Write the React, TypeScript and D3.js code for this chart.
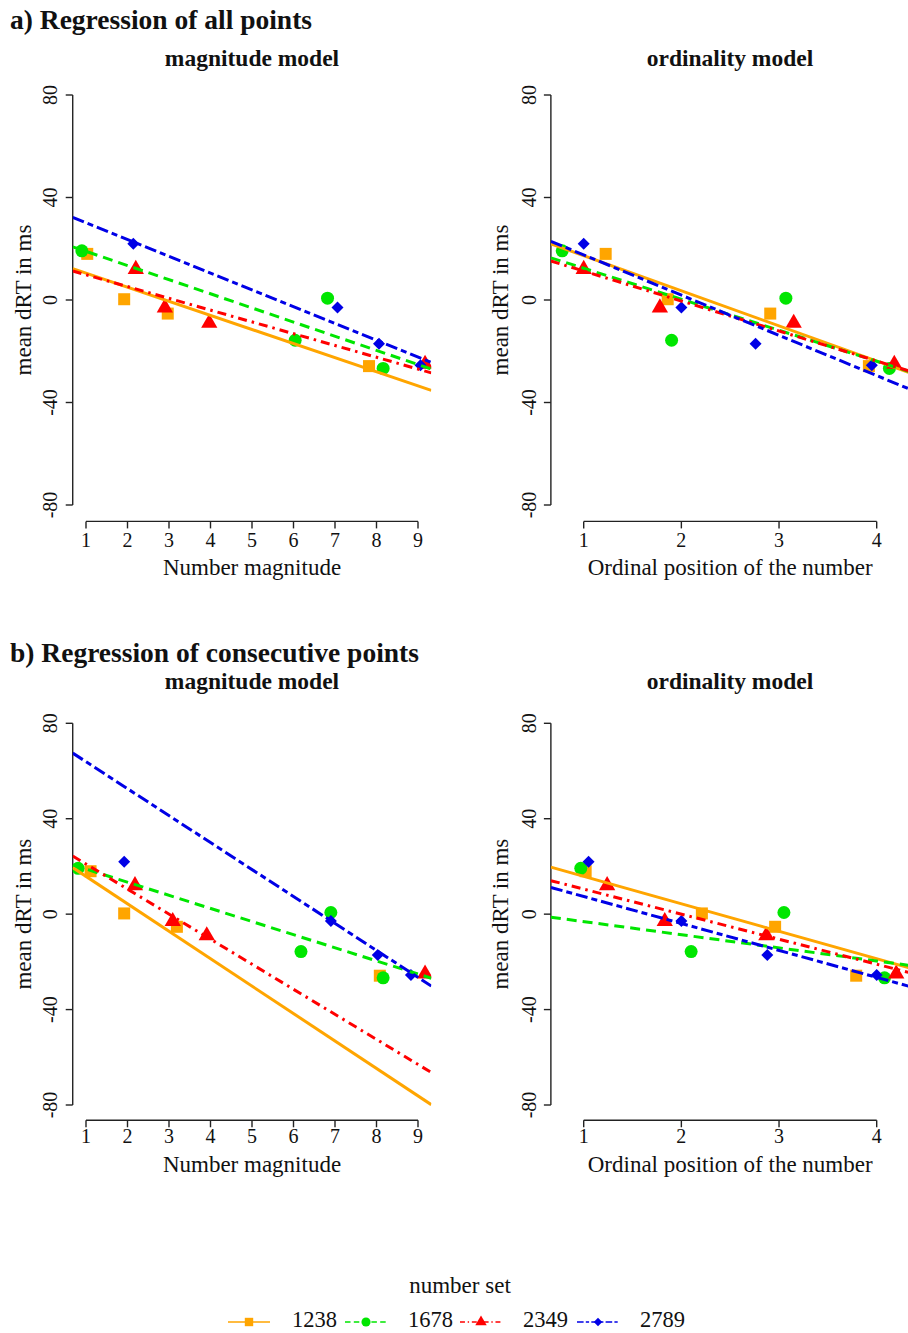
import React from 'react';
import * as d3 from 'd3';

// ---------- data ----------
const SERIES = ['1238', '1678', '2349', '2789'];
const COLORS = ['#FFA500', '#00E600', '#FF0000', '#0000E6'];
const DASHES = ['', '10,6', '9,5,2.5,5', '12,4,6,4'];
const SHAPES = ['square', 'circle', 'triangle', 'diamond'];

// mean dRT per number (same in every panel), one array per number set
const Y_1238 = [18, 0.3, -5.3, -25.8];
const Y_1678 = [19.2, -15.7, 0.7, -26.7];
const Y_2349 = [12, -3, -9, -25];
const Y_2789 = [22, -2.9, -17.1, -25.5];
const Y_VALUES = [Y_1238, Y_1678, Y_2349, Y_2789];

// plotted (jittered) x positions, per panel and number set
const X_A_MAG = [[1.03, 1.92, 2.97, 7.82], [0.9, 6.04, 6.82, 8.16], [2.2, 2.9, 3.97, 9.17], [2.14, 7.06, 8.06, 9.06]];
const X_A_ORD = [[1.225, 1.86, 2.91, 3.92], [0.78, 1.9, 3.07, 4.13], [1.0, 1.78, 3.15, 4.18], [1.0, 2.0, 2.76, 3.95]];
const X_B_MAG = [[1.11, 1.92, 3.19, 8.08], [0.81, 6.18, 6.9, 8.16], [2.18, 3.09, 3.91, 9.17], [1.92, 6.9, 8.03, 8.83]];
const X_B_ORD = [[1.02, 2.21, 2.96, 3.79], [0.97, 2.1, 3.05, 4.08], [1.24, 1.83, 2.87, 4.2], [1.05, 2.0, 2.88, 4.0]];

// regression lines [intercept, slope]
const FIT_A_MAG = [[16.0, -5.5], [24.5, -5.52], [14.45, -4.6], [36.7, -6.55]];
const FIT_A_ORD = [[31.0, -13.7], [24.5, -12.1], [23.0, -11.7], [33.3, -15.7]];
const FIT_B_MAG = [[27.33, -11.5], [24.4, -5.5], [31.5, -10.5], [75.2, -11.3]];
const FIT_B_ORD = [[27.33, -11.5], [2.37, -5.5], [21.0, -10.5], [18.7, -11.3]];

const MAG_TICKS = [1, 2, 3, 4, 5, 6, 7, 8, 9];
const ORD_TICKS = [1, 2, 3, 4];
const Y_TICKS = [-80, -40, 0, 40, 80];

// ---------- layout ----------
const W = 908;
const H = 1333;
const FONT = "'Liberation Serif', 'Times New Roman', serif";
const AXIS = '#222';

const xMag = d3.scaleLinear().domain([1, 9]).range([86, 418]);
const xOrd = d3.scaleLinear().domain([1, 4]).range([583.7, 876.7]);
const yTop = d3.scaleLinear().domain([-80, 80]).range([505, 95]);
const yBot = d3.scaleLinear().domain([-80, 80]).range([1105, 723.3]);

function Marker({ shape, x, y, color, s = 1 }: any) {
  if (shape === 'square') {
    const h = 6 * s;
    return <rect x={x - h} y={y - h} width={2 * h} height={2 * h} fill={color} />;
  }
  if (shape === 'circle') return <circle cx={x} cy={y} r={6.5 * s} fill={color} />;
  if (shape === 'triangle') {
    const p = d3.symbol(d3.symbolTriangle, 115 * s * s)();
    return <path d={p || ''} transform={`translate(${x},${y})`} fill={color} />;
  }
  const h = 6 * s;
  return <path d={`M${x},${y - h}L${x + h},${y}L${x},${y + h}L${x - h},${y}Z`} fill={color} />;
}

function Panel({ id, xs, y, ticks, xPos, fits, xLabel, yLabelX, yTickX, tickLabelY, xTitleY }: any) {
  const [d0, d1] = ticks.length === 9 ? [0.68, 9.32] : [0.664, 4.336];
  const left = xs(d0);
  const right = xs(d1);
  const top = y(86.4);
  const bottom = y(-86.4);
  const cx = (left + right) / 2;
  const midY = y(0);
  return (
    <g>
      <defs>
        <clipPath id={id}>
          <rect x={left} y={top} width={right - left} height={bottom - top} />
        </clipPath>
      </defs>
      {/* y axis */}
      <line x1={left} x2={left} y1={y(80)} y2={y(-80)} stroke={AXIS} strokeWidth={1.4} />
      {Y_TICKS.map((t) => (
        <g key={t}>
          <line x1={left - 7} x2={left} y1={y(t)} y2={y(t)} stroke={AXIS} strokeWidth={1.4} />
          <text
            transform={`translate(${yTickX},${y(t)}) rotate(-90)`}
            textAnchor="middle"
            fontFamily={FONT}
            fontSize={20}
            fill="#111"
          >
            {t}
          </text>
        </g>
      ))}
      {/* x axis */}
      <line x1={xs(ticks[0])} x2={xs(ticks[ticks.length - 1])} y1={bottom} y2={bottom} stroke={AXIS} strokeWidth={1.4} />
      {ticks.map((t: number) => (
        <g key={t}>
          <line x1={xs(t)} x2={xs(t)} y1={bottom} y2={bottom + 7} stroke={AXIS} strokeWidth={1.4} />
          <text x={xs(t)} y={tickLabelY} textAnchor="middle" fontFamily={FONT} fontSize={20} fill="#111">
            {t}
          </text>
        </g>
      ))}
      <text x={cx} y={xTitleY} textAnchor="middle" fontFamily={FONT} fontSize={23} fill="#111">
        {xLabel}
      </text>
      <text
        transform={`translate(${yLabelX},${midY}) rotate(-90)`}
        textAnchor="middle"
        fontFamily={FONT}
        fontSize={23}
        fill="#111"
      >
        mean dRT in ms
      </text>
      <g clipPath={`url(#${id})`}>
        {SERIES.map((s, i) =>
          xPos[i].map((xv: number, j: number) => (
            <Marker key={s + j} shape={SHAPES[i]} x={xs(xv)} y={y(Y_VALUES[i][j])} color={COLORS[i]} />
          ))
        )}
        {SERIES.map((s, i) => {
          const [a, b] = fits[i];
          const line = d3
            .line<number>()
            .x((v) => xs(v))
            .y((v) => y(a + b * v));
          return (
            <path
              key={s}
              d={line([d0, d1]) || ''}
              fill="none"
              stroke={COLORS[i]}
              strokeWidth={3}
              strokeDasharray={DASHES[i] || undefined}
            />
          );
        })}
      </g>
    </g>
  );
}

const LEGEND_LINE_X = [228, 345, 460, 577];
const LEGEND_TEXT_X = [292, 408, 523, 640];

export default function App() {
  return (
    <svg
      width={W}
      height={H}
      viewBox={`0 0 ${W} ${H}`}
      style={{ position: 'absolute', left: 0, top: 0, background: '#fff' }}
    >
      <rect x={0} y={0} width={W} height={H} fill="#fff" />
      <text x={10} y={29} fontFamily={FONT} fontWeight="bold" fontSize={27.5} fill="#111">
        a) Regression of all points
      </text>
      <text x={10} y={662} fontFamily={FONT} fontWeight="bold" fontSize={27.5} fill="#111">
        b) Regression of consecutive points
      </text>
      <text x={252} y={66} textAnchor="middle" fontFamily={FONT} fontWeight="bold" fontSize={23.5} fill="#111">
        magnitude model
      </text>
      <text x={730} y={66} textAnchor="middle" fontFamily={FONT} fontWeight="bold" fontSize={23.5} fill="#111">
        ordinality model
      </text>
      <text x={252} y={689} textAnchor="middle" fontFamily={FONT} fontWeight="bold" fontSize={23.5} fill="#111">
        magnitude model
      </text>
      <text x={730} y={689} textAnchor="middle" fontFamily={FONT} fontWeight="bold" fontSize={23.5} fill="#111">
        ordinality model
      </text>

      <Panel id="c1" xs={xMag} y={yTop} ticks={MAG_TICKS} xPos={X_A_MAG} fits={FIT_A_MAG}
        xLabel="Number magnitude" yLabelX={30.5} yTickX={57} tickLabelY={547} xTitleY={575} />
      <Panel id="c2" xs={xOrd} y={yTop} ticks={ORD_TICKS} xPos={X_A_ORD} fits={FIT_A_ORD}
        xLabel="Ordinal position of the number" yLabelX={507.5} yTickX={536} tickLabelY={547} xTitleY={575} />
      <Panel id="c3" xs={xMag} y={yBot} ticks={MAG_TICKS} xPos={X_B_MAG} fits={FIT_B_MAG}
        xLabel="Number magnitude" yLabelX={30.5} yTickX={57} tickLabelY={1143} xTitleY={1172} />
      <Panel id="c4" xs={xOrd} y={yBot} ticks={ORD_TICKS} xPos={X_B_ORD} fits={FIT_B_ORD}
        xLabel="Ordinal position of the number" yLabelX={507.5} yTickX={536} tickLabelY={1143} xTitleY={1172} />

      {/* legend */}
      <text x={460} y={1293} textAnchor="middle" fontFamily={FONT} fontSize={23} fill="#111">
        number set
      </text>
      {SERIES.map((s, i) => {
        const x0 = LEGEND_LINE_X[i];
        const ly = 1322;
        return (
          <g key={s}>
            <line x1={x0} x2={x0 + 42} y1={ly} y2={ly} stroke={COLORS[i]} strokeWidth={1.6}
              strokeDasharray={DASHES[i] ? DASHES[i].split(',').map((d) => +d * 0.55).join(',') : undefined} />
            <Marker shape={SHAPES[i]} x={x0 + 21} y={ly} color={COLORS[i]} s={0.7} />
            <text x={LEGEND_TEXT_X[i]} y={1327} fontFamily={FONT} fontSize={22.5} fill="#111">
              {s}
            </text>
          </g>
        );
      })}
    </svg>
  );
}
